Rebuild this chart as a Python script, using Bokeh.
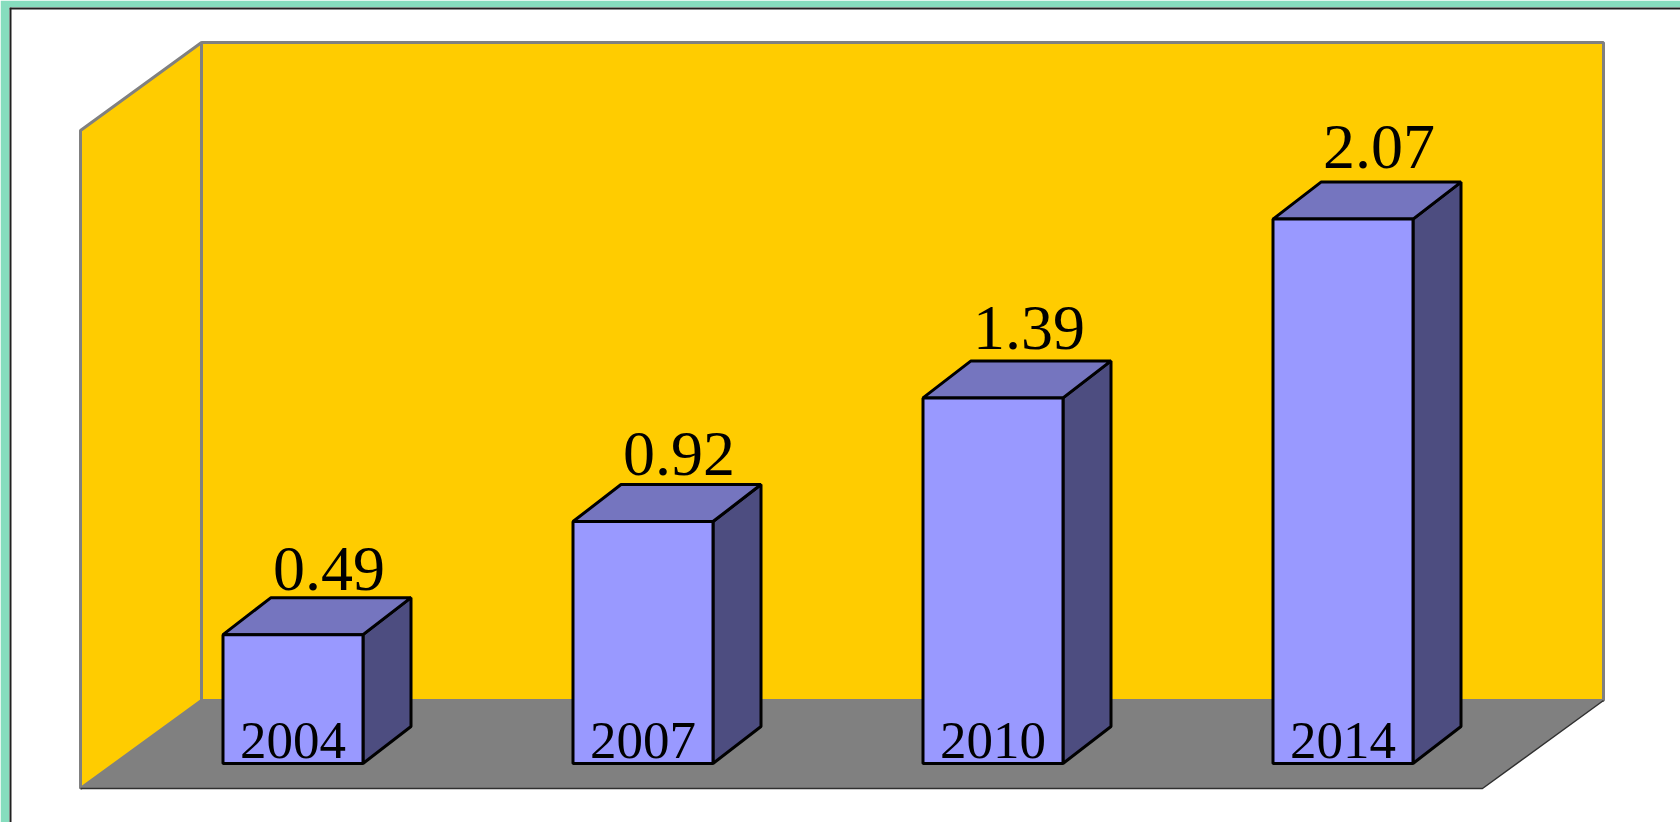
from bokeh.plotting import figure
from bokeh.models import Range1d, Span
from bokeh.core.properties import value
from bokeh.embed import file_html
from bokeh.resources import INLINE

# ---- data ----
years = ["2004", "2007", "2010", "2014"]
values = [0.49, 0.92, 1.39, 2.07]
value_labels = ["0.49", "0.92", "1.39", "2.07"]

# ---- layout / style constants ----
W, H = 1680, 822
LEFT_B, TOP_B = 9, 7
PX_X, PX_Y = 350.0, 263.0          # pixels per data unit
x_start = -(292.5 - LEFT_B) / PX_X
y_start = -59 / PX_Y
x_end = x_start + (W - LEFT_B) / PX_X
y_end = y_start + (H - TOP_B) / PX_Y

BAR_W = 140 / PX_X
BAR_DX, BAR_DY = 48 / PX_X, 37 / PX_Y
WALL_DX, WALL_DY = 121 / PX_X, 88 / PX_Y
FLOOR_Y = -25 / PX_Y
FLOOR_X0 = (80 - 292.5) / PX_X
FLOOR_X1 = (1482 - 292.5) / PX_X
WALL_TOP = (763 - 42) / PX_Y
TEXT_SHIFT = 20 / PX_Y

YELLOW = "#FFCC00"
GREY = "#808080"
FRONT = "#9999FF"
TOP = "#7575BF"
SIDE = "#4D4D80"

p = figure(width=W, height=H, x_range=Range1d(x_start, x_end), y_range=Range1d(y_start, y_end),
           output_backend="svg", toolbar_location=None,
           min_border_left=LEFT_B, min_border_top=TOP_B, min_border_right=0, min_border_bottom=0,
           x_axis_location=None, y_axis_location=None,
           background_fill_color="white", border_fill_color="#86DDBE", outline_line_color=None)
p.grid.visible = False

bx0 = FLOOR_X0 + WALL_DX
bx1 = FLOOR_X1 + WALL_DX
by0 = FLOOR_Y + WALL_DY

# back wall
p.patch([bx0, bx1, bx1, bx0], [by0, by0, WALL_TOP, WALL_TOP],
        fill_color=YELLOW, line_color=GREY, line_width=3)
# left wall
p.patch([FLOOR_X0, bx0, bx0, FLOOR_X0], [FLOOR_Y, by0, WALL_TOP, WALL_TOP - WALL_DY],
        fill_color=YELLOW, line_color=GREY, line_width=3)
# floor
p.patch([FLOOR_X0, FLOOR_X1, bx1, bx0], [FLOOR_Y, FLOOR_Y, by0, by0],
        fill_color=GREY, line_color=None)
p.line([FLOOR_X0, FLOOR_X1, bx1], [FLOOR_Y, FLOOR_Y, by0], line_color="#303030", line_width=1.5)

# bars
fx, fy, tx, ty, sx, sy = [], [], [], [], [], []
for i, v in enumerate(values):
    x0, x1 = i - BAR_W / 2, i + BAR_W / 2
    fx.append([x0, x1, x1, x0]); fy.append([0, 0, v, v])
    tx.append([x0, x1, x1 + BAR_DX, x0 + BAR_DX]); ty.append([v, v, v + BAR_DY, v + BAR_DY])
    sx.append([x1, x1 + BAR_DX, x1 + BAR_DX, x1]); sy.append([0, BAR_DY, v + BAR_DY, v])

p.patches(sx, sy, fill_color=SIDE, line_color="black", line_width=3)
p.patches(tx, ty, fill_color=TOP, line_color="black", line_width=3)
p.patches(fx, fy, fill_color=FRONT, line_color="black", line_width=3)

# value labels
lx = [i + 36 / PX_X for i in range(len(values))]
ly = [v * 1.016 + 0.026 + BAR_DY + TEXT_SHIFT for v in values]
p.text(x=lx, y=ly, text=value_labels, text_align="center", text_baseline="alphabetic",
       text_font=value("Liberation Serif"), text_font_size="64px", text_color="black")

# year labels
p.text(x=list(range(len(years))), y=[5 / PX_Y + 18 / PX_Y] * len(years), text=years,
       text_align="center", text_baseline="alphabetic",
       text_font=value("Liberation Serif"), text_font_size="53px", text_color="black")

# frame lines (top/left)
p.add_layout(Span(location=x_start, dimension="height", line_color="#202020", line_width=4))
p.add_layout(Span(location=y_end, dimension="width", line_color="#202020", line_width=4))

open("out.html", "w").write(file_html(p, INLINE))
